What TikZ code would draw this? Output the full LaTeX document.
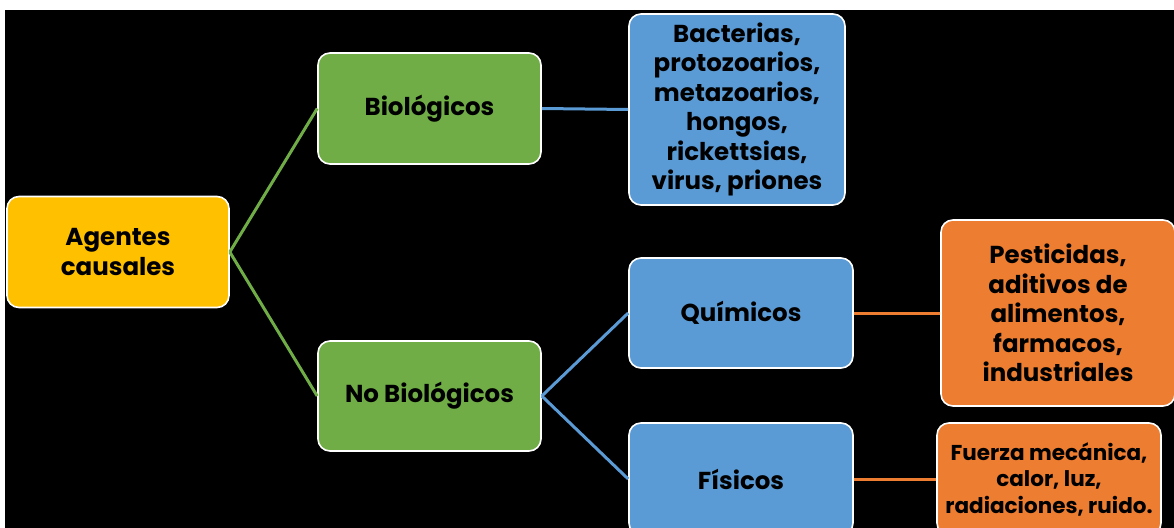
\documentclass[tikz,border=0pt]{standalone}
\usepackage{fontspec}
\setmainfont{Poppins}
\usepackage{tikz}
\usetikzlibrary{positioning, calc}
\definecolor{causalyellow}{HTML}{FFC000}
\definecolor{biogreen}{HTML}{70AD47}
\definecolor{quimblue}{HTML}{5B9BD5}
\definecolor{fisorange}{HTML}{ED7D31}
\tikzset{
  agentbox/.style={draw=white, line width=1.6pt, rounded corners=12pt, align=center,
    font=\fontsize{24.5}{29.5}\selectfont\bfseries, text=black, inner sep=0pt},
  greenlink/.style={biogreen, line width=3pt},
  bluelink/.style={quimblue, line width=3pt},
  orangelink/.style={fisorange, line width=3pt}
}
\begin{document}
\begin{tikzpicture}[x=1pt, y=-1pt]
		\pgfmathsetmacro{\picw}{1174}
		\pgfmathsetmacro{\pich}{527}
		\useasboundingbox (0,0) rectangle (\picw,\pich);
		\clip (0,0) rectangle (\picw,\pich);
		\fill[white] (0,0) rectangle (\picw,\pich);
		\fill[black] (5,10) rectangle (\picw+2,\pich+2);
		%% first level
		\node[agentbox, fill=causalyellow, minimum width=222pt, minimum height=111pt] (agentes) at (118,252) {Agentes\\causales};
		\node[agentbox, fill=biogreen, minimum width=223pt, minimum height=111pt] (bio) at (429.5,108.5) {Biológicos};
		\node[agentbox, fill=biogreen, minimum width=223pt, minimum height=110pt] (nobio) at (429.5,396) {No Biológicos};
		%% second level
		\node[agentbox, fill=quimblue, minimum width=216pt, minimum height=191pt] (bacterias) at (737,109.5) {Bacterias,\\protozoarios,\\metazoarios,\\hongos,\\rickettsias,\\virus, priones};
		\node[agentbox, fill=quimblue, minimum width=224pt, minimum height=110pt] (quimicos) at (741,313) {Químicos};
		\node[agentbox, fill=quimblue, minimum width=224pt, minimum height=112pt] (fisicos) at (741,479) {Físicos};
		%% third level
		\node[agentbox, fill=fisorange, minimum width=234pt, minimum height=186pt] (pesticidas) at (1058,313) {Pesticidas,\\aditivos de\\alimentos,\\farmacos,\\industriales};
		\node[agentbox, fill=fisorange, minimum width=224pt, minimum height=112pt, font=\fontsize{21.5}{26.5}\selectfont\bfseries] (fuerza) at (1049,479) {Fuerza mecánica,\\calor, luz,\\radiaciones, ruido.};
		%% connectors
		\draw[greenlink] (agentes.east) -- (bio.west);
		\draw[greenlink] (agentes.east) -- (nobio.west);
		\draw[bluelink] (bio.east) -- (bacterias.west);
		\draw[bluelink] (nobio.east) -- (quimicos.west);
		\draw[bluelink] (nobio.east) -- (fisicos.west);
		\draw[orangelink] (quimicos.east) -- (pesticidas.west);
		\draw[orangelink] (fisicos.east) -- (fuerza.west);
		\end{tikzpicture}
\end{document}
